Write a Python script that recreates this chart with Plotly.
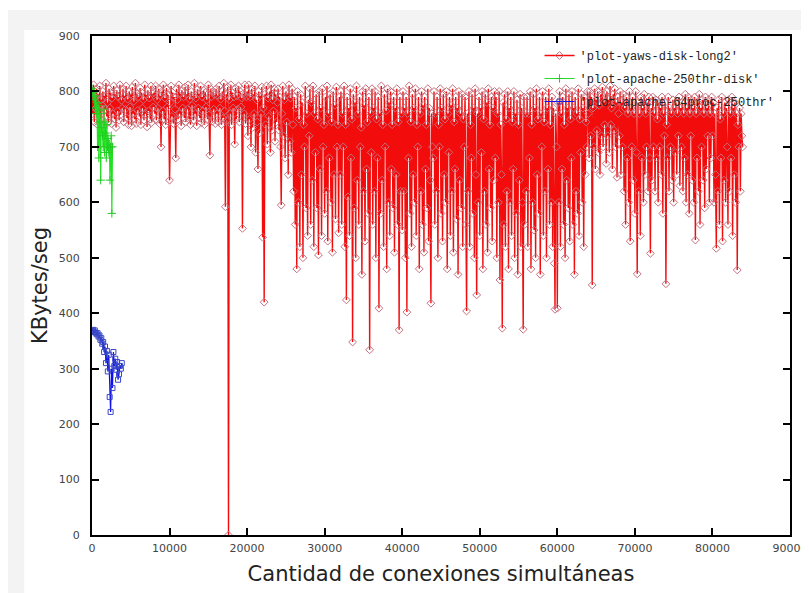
import plotly.graph_objects as go

# ---------------- data ----------------
yaws_x_start = 0
yaws_x_step = 100
yaws_rows = [
    # 0 - 3900
    [800,760,812,745,790,770,805,740,795,765,810,750,785,775,800,738,792,768,815,755,780,745,805,770,798,742,788,760,810,750,795,735,802,765,790,748,812,758,784,770],
    # 4000 - 7900
    [805,745,792,768,810,752,786,740,800,772,795,738,808,760,782,750,815,742,796,766,790,755,806,740,798,770,785,748,812,760,794,736,802,765,788,750,810,744,796,772],
    # 8000 - 11900
    [798,760,810,748,785,770,805,742,792,700,800,765,812,750,788,740,806,772,794,745,640,780,810,755,798,742,790,768,680,805,785,750,812,760,796,738,802,770,790,752],
    # 12000 - 15900
    [808,745,795,768,812,750,786,740,800,775,792,748,815,760,788,738,804,770,796,752,810,744,790,765,802,740,798,772,785,750,812,758,685,805,790,746,800,768,794,742],
    # 16000 - 19900
    [805,760,792,745,810,770,786,740,800,752,815,765,592,795,748,808,0,785,760,812,740,798,770,790,705,806,750,792,768,810,745,800,772,788,553,796,760,812,742,790],
    # 20000 - 23900
    [800,720,812,750,790,700,805,735,795,760,810,690,785,745,660,800,725,792,760,808,537,770,420,795,740,810,705,788,755,800,690,812,730,785,765,805,710,795,745,780],
    # 24000 - 27900
    [805,730,790,700,595,760,810,720,785,680,800,745,795,650,812,710,788,690,805,740,620,790,560,770,480,800,600,750,520,795,650,780,500,740,700,810,590,760,540,785],
    # 28000 - 31900
    [720,805,560,780,640,810,520,760,690,795,590,750,505,800,660,770,540,805,700,740,580,790,620,810,530,760,680,795,600,745,510,800,650,775,570,808,700,740,545,790],
    # 32000 - 35900
    [650,800,560,760,700,810,520,740,424,790,610,770,540,805,680,750,348,795,590,780,500,810,640,760,560,790,700,735,470,800,620,775,530,805,660,745,580,790,334,760],
    # 36000 - 39900
    [690,805,560,770,620,800,500,750,680,790,409,760,580,810,640,740,520,795,700,765,480,805,600,780,540,800,660,740,590,790,510,770,650,805,560,745,370,790,620,760],
    # 40000 - 43900
    [550,800,620,770,500,790,402,760,680,810,580,745,520,795,650,770,600,805,540,740,700,790,480,760,620,800,560,775,510,790,660,740,590,805,530,770,640,418,760,700],
    # 44000 - 47900
    [680,800,560,760,620,790,500,740,700,805,580,770,530,795,650,750,600,800,480,760,690,790,540,775,620,805,510,745,660,790,570,770,470,800,640,760,590,795,520,750],
    # 48000 - 51900
    [700,790,560,404,760,620,800,520,740,680,795,580,770,500,805,650,433,760,600,790,540,770,690,800,480,750,620,795,560,780,510,805,660,740,590,790,530,770,640,800],
    # 52000 - 55900
    [680,790,500,760,600,800,460,740,650,373,780,560,795,520,750,620,800,480,770,600,790,540,745,660,800,500,760,580,785,470,740,640,795,520,770,600,371,790,560,760],
    # 56000 - 59900
    [620,790,520,760,680,800,480,740,600,795,550,770,500,805,650,750,580,790,470,760,700,800,540,745,620,790,500,770,660,805,560,740,600,790,520,770,490,407,760,700],
    # 60000 - 63900
    [409,780,600,800,520,760,660,790,560,740,500,805,640,770,590,795,530,750,680,800,560,770,470,790,620,760,580,805,540,750,690,795,600,770,520,790,650,745,700,800],
    # 64000 - 67900
    [760,680,800,720,790,451,770,700,805,660,785,730,800,690,775,650,795,720,808,700,780,740,795,670,800,720,785,690,810,740,770,660,795,730,805,700,780,645,790,760],
    # 68000 - 71900
    [720,800,650,780,700,795,620,770,560,790,680,760,600,800,530,770,700,790,640,760,580,800,690,471,780,620,760,540,790,680,770,600,795,650,760,700,780,620,790,680],
    # 72000 - 75900
    [508,770,640,790,700,760,620,785,680,750,600,780,700,770,650,790,580,760,720,780,453,740,680,790,620,770,700,760,640,785,600,770,690,780,650,760,720,790,630,770],
    # 76000 - 79900
    [700,780,620,760,680,795,600,770,650,790,580,760,720,785,640,770,600,790,532,760,680,780,620,795,560,770,700,785,640,760,590,790,660,770,720,785,600,760,680,790],
    # 80000 - 83900
    [720,780,600,760,650,517,770,620,785,560,750,680,790,530,760,640,780,600,770,700,560,785,620,760,680,790,540,770,650,780,600,760,478,740,700,770,620,760,720,700],
]
yaws_values = [v for row in yaws_rows for v in row]
yaws_x = [yaws_x_start + i * yaws_x_step for i in range(len(yaws_values))]

apache_disk_x = [0, 80, 160, 240, 320, 400, 480, 560, 640, 720, 800, 880, 960, 1040, 1120,
                 1200, 1280, 1360, 1440, 1520, 1600, 1680, 1760, 1840, 1920, 2000, 2080, 2160,
                 2240, 2320, 2400, 2480, 2560, 2640]
apache_disk_y = [805, 798, 790, 800, 785, 770, 792, 760, 780, 700, 775, 680, 765, 745, 640,
                 760, 735, 720, 700, 768, 690, 745, 725, 680, 740, 700, 715, 690, 705, 640,
                 700, 720, 580, 700]

apache_64_x = [0, 120, 240, 360, 480, 600, 720, 840, 960, 1080, 1200, 1320, 1440, 1560, 1680,
               1800, 1920, 2040, 2160, 2280, 2400, 2520, 2640, 2760, 2880, 3000, 3120, 3240,
               3360, 3480, 3600, 3720, 3840]
apache_64_y = [368, 370, 366, 369, 365, 362, 364, 358, 360, 352, 355, 345, 348, 330, 340,
               310, 332, 295, 325, 249, 222, 300, 265, 330, 305, 318, 298, 312, 280, 290,
               305, 300, 310]

x_ticks = [0, 10000, 20000, 30000, 40000, 50000, 60000, 70000, 80000, 90000]
y_ticks = [0, 100, 200, 300, 400, 500, 600, 700, 800, 900]

# ---------------- figure ----------------
fig = go.Figure()

fig.add_trace(go.Scatter(
    x=yaws_x, y=yaws_values, mode="lines+markers",
    name="'plot-yaws-disk-long2'", legendgroup="a",
    line=dict(color="#f20c0c", width=1.4),
    marker=dict(symbol="diamond-open", size=6, color="#c8707e", line=dict(width=1)),
))
fig.add_trace(go.Scatter(
    x=apache_disk_x, y=apache_disk_y, mode="lines+markers",
    name="'plot-apache-250thr-disk'", legendgroup="b",
    line=dict(color="#22e022", width=1.2),
    marker=dict(symbol="cross-thin-open", size=6, color="#22cc22", line=dict(width=1)),
))
fig.add_trace(go.Scatter(
    x=apache_64_x, y=apache_64_y, mode="lines+markers",
    name="'plot-apache-64proc-250thr'", legendgroup="c",
    line=dict(color="#1010ee", width=1.2),
    marker=dict(symbol="square-open", size=5, color="#3a48c8", line=dict(width=1)),
))

axis_common = dict(
    showline=True, linecolor="black", linewidth=2, mirror="ticks",
    ticks="inside", ticklen=7, tickwidth=1.5, tickcolor="black",
    showgrid=False, zeroline=False, automargin=False,
    tickfont=dict(family="DejaVu Sans", size=11, color="#444444"),
)

fig.update_layout(
    width=809, height=593,
    margin=dict(l=84, r=27, t=28, b=66, autoexpand=False),
    paper_bgcolor="white", plot_bgcolor="white",
    xaxis=dict(range=[0, 90000], tickvals=x_ticks, ticktext=[str(v) for v in x_ticks],
               ticklabelstandoff=2,
               title=dict(text="Cantidad de conexiones simultáneas",
                          font=dict(family="DejaVu Sans", size=21, color="#222222"),
                          standoff=12),
               **axis_common),
    yaxis=dict(range=[0, 900], tickvals=y_ticks, ticktext=[str(v) for v in y_ticks],
               ticklabelstandoff=8,
               title=dict(text="KBytes/seg",
                          font=dict(family="DejaVu Sans", size=21, color="#222222"),
                          standoff=5),
               **axis_common),
    legend=dict(x=0.985, y=0.99, xanchor="right", yanchor="top",
                bgcolor="rgba(0,0,0,0)", tracegroupgap=4,
                font=dict(family="Liberation Mono", size=12, color="#222222")),
    shapes=[
        dict(type="rect", xref="paper", yref="paper", x0=-0.122, x1=1.03, y0=1.012, y1=1.052,
             fillcolor="#f3f3f3", line=dict(width=0), layer="below"),
        dict(type="rect", xref="paper", yref="paper", x0=-0.122, x1=-0.097, y0=-0.12, y1=1.012,
             fillcolor="#f3f3f3", line=dict(width=0), layer="below"),
    ],
)

fig.write_html("out.html")
